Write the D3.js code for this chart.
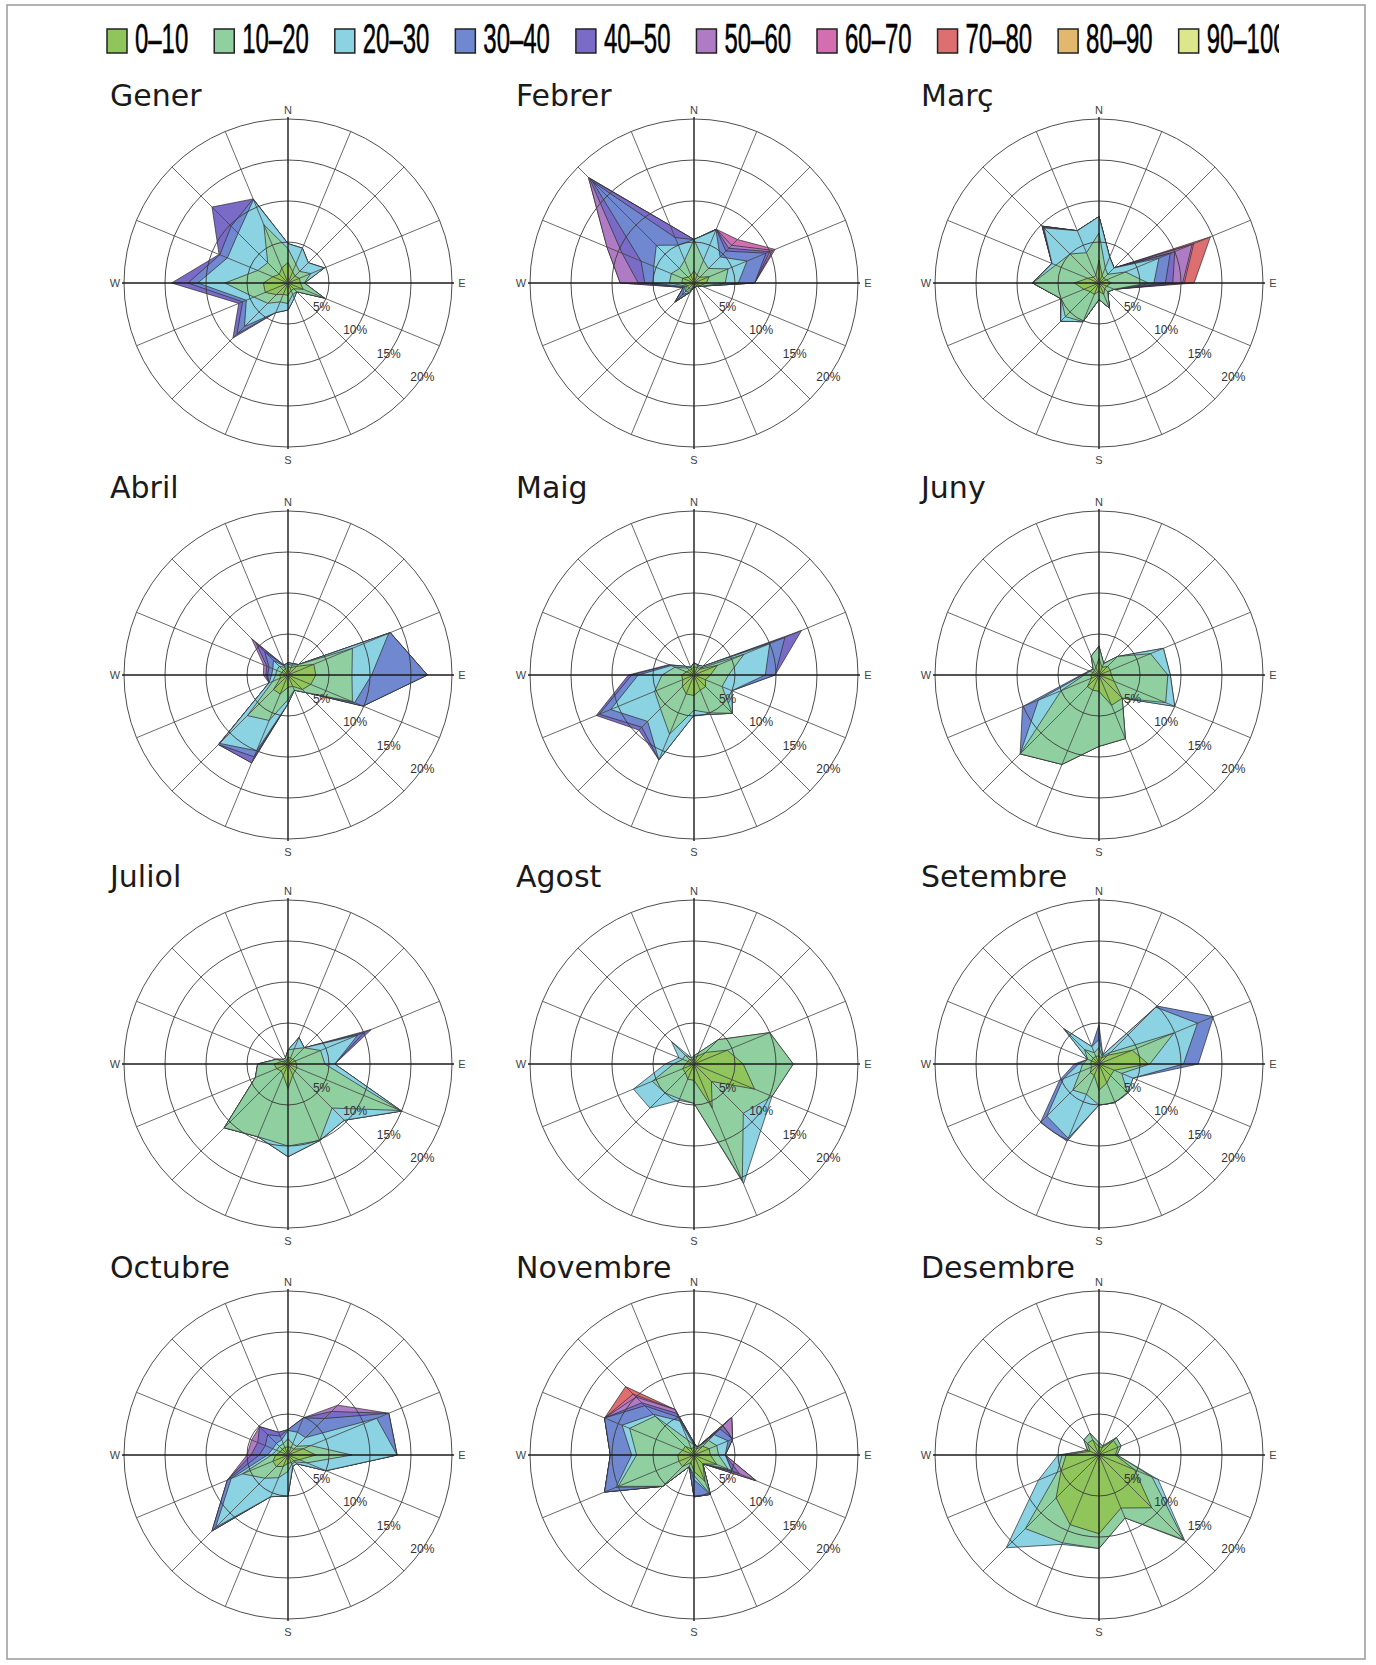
<!DOCTYPE html>
<html>
<head>
<meta charset="utf-8">
<script src="https://cdn.jsdelivr.net/npm/d3@7"></script>
<style>
  body { margin: 0; background: #fff; }
  svg { display: block; }
</style>
</head>
<body>
<svg id="chart" width="1376" height="1665"></svg>
<script>
// classes de velocitat i colors
const classes = ['0–10', '10–20', '20–30', '30–40', '40–50', '50–60', '60–70', '70–80', '80–90', '90–100'];
const classColors = ['#8fc55a', '#90cfa0', '#8bd2e2', '#7088d0', '#7a6cc6', '#ae7bc4', '#d36fb0', '#de6f70', '#e2b86e', '#dbe78a'];
const directions = ['N', 'NNE', 'NE', 'ENE', 'E', 'ESE', 'SE', 'SSE', 'S', 'SSW', 'SW', 'WSW', 'W', 'WNW', 'NW', 'NNW'];
const monthNames = ['Gener', 'Febrer', 'Març', 'Abril', 'Maig', 'Juny', 'Juliol', 'Agost', 'Setembre', 'Octubre', 'Novembre', 'Desembre'];
const rings = [5, 10, 15, 20];

// freqüència acumulada (%) per classe, 16 direccions des del N en sentit horari
const gener = [
  [2.5, 1.5, 1.2, 1.5, 1.5, 2.0, 1.0, 1.0, 1.5, 1.5, 2.0, 3.0, 3.0, 2.0, 1.5, 2.0],
  [4.2, 2.5, 2.0, 3.0, 2.0, 4.8, 1.5, 1.5, 2.5, 2.5, 3.5, 4.5, 7.7, 4.0, 3.5, 7.7],
  [4.8, 4.6, 3.5, 4.8, 2.0, 4.8, 1.5, 2.0, 3.3, 3.9, 7.5, 5.5, 11.0, 8.0, 8.6, 11.0],
  [4.8, 4.6, 3.5, 4.8, 2.0, 4.8, 1.5, 2.0, 3.3, 3.9, 8.8, 6.0, 12.2, 9.0, 9.8, 11.1],
  [4.8, 4.6, 3.5, 4.8, 2.0, 4.8, 1.5, 2.0, 3.3, 3.9, 9.5, 6.5, 14.2, 9.1, 13.1, 11.1]
];
const febrer = [
  [1.5, 1.0, 1.0, 2.0, 1.5, 0.8, 0.5, 0.5, 0.5, 0.8, 1.0, 0.8, 1.5, 1.5, 1.0, 1.0],
  [5.3, 3.0, 2.5, 4.5, 3.8, 1.0, 0.5, 0.5, 0.5, 1.0, 1.5, 1.0, 3.0, 3.0, 2.5, 3.0],
  [5.3, 7.0, 4.5, 7.0, 5.4, 1.0, 0.5, 0.5, 0.5, 1.2, 2.0, 1.2, 5.0, 5.3, 6.5, 5.0],
  [5.3, 7.1, 5.5, 9.5, 7.4, 1.0, 0.5, 0.5, 0.5, 1.2, 3.2, 1.4, 6.0, 7.0, 17.5, 6.0],
  [5.3, 7.1, 6.0, 10.0, 7.4, 1.0, 0.5, 0.5, 0.5, 1.2, 3.3, 1.4, 6.8, 9.5, 18.0, 7.6],
  [5.3, 7.1, 6.5, 10.4, 7.4, 1.0, 0.5, 0.5, 0.5, 1.2, 3.3, 1.4, 9.0, 11.5, 18.2, 7.6],
  [5.3, 7.1, 7.5, 10.7, 7.4, 1.0, 0.5, 0.5, 0.5, 1.2, 3.3, 1.4, 9.0, 11.5, 18.2, 7.6]
];
const marc = [
  [2.8, 1.0, 0.8, 1.0, 1.5, 1.0, 1.0, 1.5, 1.0, 1.5, 1.5, 2.0, 3.0, 1.5, 1.0, 1.0],
  [6.1, 2.0, 1.5, 3.5, 6.0, 2.0, 1.5, 3.3, 2.0, 5.1, 5.8, 5.0, 8.1, 5.7, 5.0, 4.0],
  [8.1, 3.4, 2.6, 7.9, 6.7, 2.0, 1.5, 3.3, 2.0, 5.1, 6.6, 5.0, 8.1, 6.2, 9.5, 6.9],
  [8.1, 3.4, 2.6, 9.4, 8.1, 2.0, 1.5, 3.3, 2.0, 5.1, 6.6, 5.0, 8.1, 6.2, 9.6, 6.9],
  [8.1, 3.4, 2.6, 10.0, 9.0, 2.0, 1.5, 3.3, 2.0, 5.1, 6.6, 5.0, 8.1, 6.2, 9.8, 6.9],
  [8.1, 3.4, 2.6, 12.3, 10.2, 2.0, 1.5, 3.3, 2.0, 5.1, 6.6, 5.0, 8.1, 6.2, 9.8, 6.9],
  [8.1, 3.4, 2.6, 12.5, 10.4, 2.0, 1.5, 3.3, 2.0, 5.1, 6.6, 5.0, 8.1, 6.2, 9.8, 6.9],
  [8.1, 3.4, 2.6, 14.7, 11.6, 2.0, 1.5, 3.3, 2.0, 5.1, 6.6, 5.0, 8.1, 6.2, 9.8, 6.9]
];
const abril = [
  [1.0, 1.0, 1.5, 3.4, 3.4, 3.0, 2.5, 1.5, 1.5, 2.5, 2.5, 1.0, 1.0, 0.8, 0.8, 0.8],
  [1.3, 1.3, 1.8, 8.5, 7.8, 8.5, 3.0, 2.0, 3.0, 6.0, 7.0, 2.0, 1.5, 1.5, 1.5, 1.0],
  [1.5, 1.5, 1.8, 13.3, 10.2, 8.8, 3.0, 2.0, 3.5, 10.0, 11.8, 2.5, 2.0, 2.0, 2.5, 1.2],
  [1.5, 1.5, 1.8, 13.5, 17.0, 9.9, 3.0, 2.0, 3.5, 10.8, 12.0, 2.5, 2.5, 2.5, 4.0, 1.3],
  [1.5, 1.5, 1.8, 13.5, 17.0, 9.9, 3.0, 2.0, 3.5, 11.6, 12.0, 2.5, 2.7, 2.8, 5.5, 1.3],
  [1.5, 1.5, 1.8, 13.5, 17.0, 9.9, 3.0, 2.0, 3.5, 11.6, 12.0, 2.5, 3.0, 3.2, 6.3, 1.3]
];
const maig = [
  [1.0, 1.0, 1.0, 3.1, 2.0, 1.5, 2.0, 2.0, 2.5, 2.5, 2.0, 1.5, 1.5, 1.0, 0.8, 0.8],
  [1.5, 1.2, 1.2, 6.6, 4.2, 3.7, 6.6, 5.0, 4.3, 7.8, 5.8, 5.2, 3.9, 2.5, 1.2, 1.0],
  [1.5, 1.3, 1.5, 10.0, 8.7, 5.0, 6.6, 5.2, 4.9, 11.2, 8.0, 11.0, 6.8, 3.0, 1.5, 1.0],
  [1.5, 1.3, 1.5, 12.0, 9.9, 5.0, 6.6, 5.2, 4.9, 11.2, 9.0, 12.5, 7.6, 3.2, 1.5, 1.0],
  [1.5, 1.3, 1.5, 14.2, 9.9, 5.0, 6.6, 5.2, 4.9, 11.2, 9.5, 12.9, 8.0, 3.3, 1.5, 1.0]
];
const juny = [
  [2.0, 1.0, 1.5, 1.5, 1.5, 2.0, 4.0, 4.0, 2.0, 2.0, 2.0, 1.0, 1.0, 0.8, 0.8, 1.0],
  [3.5, 1.5, 3.2, 6.8, 8.4, 8.8, 4.0, 8.4, 8.7, 11.8, 13.6, 5.0, 1.8, 1.2, 1.0, 2.5],
  [3.5, 1.5, 3.2, 8.5, 8.7, 10.0, 4.0, 8.4, 8.7, 11.8, 13.6, 8.0, 2.0, 1.3, 1.0, 2.5],
  [3.5, 1.5, 3.2, 8.5, 8.7, 10.0, 4.0, 8.4, 8.7, 11.8, 13.6, 10.1, 2.2, 1.3, 1.0, 2.5]
];
const juliol = [
  [0.8, 0.8, 0.8, 1.0, 1.0, 1.2, 1.2, 1.5, 3.0, 1.5, 1.2, 1.5, 1.7, 0.8, 0.5, 0.5],
  [1.7, 2.0, 2.8, 4.3, 4.5, 14.8, 7.6, 10.1, 10.0, 9.6, 11.0, 4.3, 3.7, 1.5, 0.8, 0.8],
  [1.7, 3.5, 2.8, 9.2, 5.7, 15.0, 9.7, 10.1, 11.3, 9.6, 11.0, 4.3, 3.7, 1.5, 0.8, 0.8],
  [1.7, 3.5, 2.8, 10.0, 5.7, 15.0, 9.7, 10.1, 11.3, 9.6, 11.0, 4.3, 3.7, 1.5, 0.8, 0.8],
  [1.7, 3.5, 2.8, 11.0, 5.7, 15.0, 9.7, 10.1, 11.3, 9.6, 11.0, 4.3, 3.7, 1.5, 0.8, 0.8]
];
const agost = [
  [0.8, 1.0, 2.0, 4.4, 6.0, 8.0, 3.0, 5.8, 2.0, 2.0, 1.5, 1.5, 1.0, 0.8, 0.8, 0.5],
  [1.0, 1.5, 4.2, 10.0, 12.1, 10.3, 8.5, 15.4, 4.8, 4.6, 5.0, 5.5, 2.5, 1.5, 1.5, 0.8],
  [1.0, 1.5, 4.2, 10.0, 12.1, 10.3, 11.5, 15.8, 4.8, 4.8, 7.6, 8.0, 3.5, 2.0, 3.9, 0.8]
];
const setembre = [
  [1.0, 0.8, 1.5, 4.4, 6.0, 2.0, 2.0, 2.5, 3.2, 1.5, 1.5, 1.0, 1.0, 1.0, 1.0, 1.0],
  [2.0, 1.0, 2.0, 9.9, 6.2, 3.0, 4.9, 5.1, 5.0, 4.0, 4.5, 2.5, 2.0, 1.5, 2.5, 1.5],
  [3.0, 1.2, 9.8, 13.0, 10.3, 4.5, 4.9, 5.1, 5.0, 9.8, 9.0, 4.7, 2.5, 1.5, 6.1, 2.3],
  [4.8, 1.2, 10.0, 15.1, 12.1, 4.5, 4.9, 5.1, 5.0, 10.2, 10.1, 5.2, 3.0, 1.5, 6.1, 2.3]
];
const octubre = [
  [1.0, 1.0, 1.0, 2.0, 3.4, 1.5, 1.0, 1.0, 1.0, 1.5, 2.0, 2.0, 1.5, 1.0, 1.0, 1.0],
  [2.0, 1.5, 1.5, 3.0, 7.8, 2.5, 1.2, 1.2, 2.0, 3.0, 4.0, 6.0, 2.0, 1.5, 1.5, 1.5],
  [3.0, 3.0, 3.0, 11.7, 13.3, 5.0, 1.5, 1.5, 5.0, 5.5, 12.5, 7.5, 2.5, 2.0, 2.0, 2.0],
  [3.1, 4.9, 6.3, 13.3, 13.3, 5.0, 1.5, 1.5, 5.0, 5.5, 13.1, 8.0, 3.5, 3.0, 3.5, 2.5],
  [3.1, 4.9, 7.5, 13.3, 13.3, 5.0, 1.5, 1.5, 5.0, 5.5, 13.1, 8.0, 4.5, 4.0, 4.9, 3.0],
  [3.1, 4.9, 8.6, 13.3, 13.3, 5.0, 1.5, 1.5, 5.0, 5.5, 13.1, 8.0, 5.0, 4.8, 4.9, 3.0]
];
const novembre = [
  [1.0, 0.8, 1.5, 2.0, 2.0, 3.0, 1.5, 3.5, 2.0, 1.0, 2.0, 2.0, 2.0, 1.5, 1.5, 0.8],
  [1.2, 1.0, 2.5, 3.0, 3.0, 4.5, 1.5, 5.2, 2.5, 1.5, 5.4, 10.0, 7.0, 8.5, 6.7, 2.0],
  [1.2, 1.0, 3.5, 4.5, 3.8, 5.0, 1.5, 5.2, 3.0, 1.5, 5.4, 10.3, 7.6, 9.5, 7.0, 4.5],
  [1.5, 1.0, 4.5, 5.1, 3.8, 5.0, 1.5, 5.2, 5.1, 1.5, 5.4, 11.8, 10.2, 11.8, 8.5, 5.0],
  [1.5, 1.0, 5.0, 5.1, 3.8, 6.0, 1.5, 5.2, 5.1, 1.5, 5.4, 11.8, 10.2, 11.8, 9.0, 5.5],
  [1.5, 1.0, 6.5, 5.1, 3.8, 8.2, 1.5, 5.2, 5.1, 1.5, 5.4, 11.8, 10.2, 11.8, 10.0, 6.0],
  [1.5, 1.0, 6.5, 5.1, 3.8, 8.2, 1.5, 5.2, 5.1, 1.5, 5.4, 11.8, 10.2, 11.8, 10.5, 6.0],
  [1.5, 1.0, 6.5, 5.1, 3.8, 8.2, 1.5, 5.2, 5.1, 1.5, 5.4, 11.8, 10.2, 11.8, 11.8, 6.0]
];
const desembre = [
  [1.0, 1.0, 2.5, 2.5, 2.0, 4.7, 9.1, 7.0, 9.6, 9.2, 7.4, 5.0, 4.0, 1.2, 2.0, 2.0],
  [1.5, 1.2, 3.0, 2.9, 2.2, 7.0, 14.6, 8.3, 11.4, 11.6, 12.7, 5.5, 4.5, 1.5, 2.6, 2.9],
  [1.5, 1.2, 3.0, 2.9, 2.2, 7.8, 14.8, 8.3, 11.4, 11.8, 16.0, 8.0, 5.0, 1.5, 2.6, 2.9]
];
const months = [gener, febrer, marc, abril, maig, juny, juliol, agost, setembre, octubre, novembre, desembre];

const svg = d3.select('#chart');

// marc exterior
svg.append('rect')
  .attr('x', 7).attr('y', 5)
  .attr('width', 1358).attr('height', 1654)
  .attr('fill', 'none')
  .attr('stroke', '#999')
  .attr('stroke-width', 1.5);

// llegenda (retallada a la dreta com a l'original)
svg.append('clipPath').attr('id', 'legclip')
  .append('rect').attr('x', 0).attr('y', 0).attr('width', 1279).attr('height', 80);

const legend = svg.append('g').attr('clip-path', 'url(#legclip)');
let lx = 107;
classes.forEach((c, i) => {
  legend.append('rect')
    .attr('x', lx).attr('y', 29)
    .attr('width', 20).attr('height', 24)
    .attr('fill', classColors[i])
    .attr('stroke', '#222')
    .attr('stroke-width', 1.5);
  const t = legend.append('text')
    .attr('transform', `translate(${lx + 28},53) scale(0.57,1)`)
    .attr('font-family', 'Liberation Sans, Arial, sans-serif')
    .attr('font-size', 42)
    .attr('fill', '#000')
    .attr('stroke', '#000')
    .attr('stroke-width', 0.6)
    .text(c);
  const w = t.node().getComputedTextLength() * 0.57;
  lx += 28 + w + 26;
});

// escales
const rScale = d3.scaleLinear().domain([0, 20]).range([0, 164]);
const angle = d3.scaleLinear().domain([0, directions.length]).range([0, 2 * Math.PI]);
const colX = [288, 694, 1099];
const rowY = [283, 675, 1064, 1455];

const radial = d3.lineRadial()
  .angle((d, i) => angle(i))
  .radius(d => rScale(d))
  .curve(d3.curveLinearClosed);

months.forEach((layers, m) => {
  const cx = colX[m % 3];
  const cy = rowY[Math.floor(m / 3)];
  const g = svg.append('g').attr('transform', `translate(${cx},${cy})`);

  // títol
  g.append('text')
    .attr('x', -178).attr('y', -177)
    .attr('font-family', 'DejaVu Sans, sans-serif')
    .attr('font-size', 30)
    .attr('fill', '#1a1a1a')
    .text(monthNames[m]);

  // polígons acumulats, de fora cap a dins
  for (let k = layers.length - 1; k >= 0; k--) {
    g.append('path')
      .attr('d', radial(layers[k]))
      .attr('fill', classColors[k])
      .attr('stroke', '#2a2a2a')
      .attr('stroke-width', 0.7)
      .attr('stroke-linejoin', 'round');
  }

  // graella
  rings.forEach(v => {
    g.append('circle')
      .attr('r', rScale(v))
      .attr('fill', 'none')
      .attr('stroke', '#3a3a3a')
      .attr('stroke-width', 0.9);
  });

  directions.forEach((d, i) => {
    const a = angle(i);
    const cardinal = i % 4 === 0;
    const R = rScale(20) + (cardinal ? 2 : 0);
    g.append('line')
      .attr('x1', 0).attr('y1', 0)
      .attr('x2', R * Math.sin(a))
      .attr('y2', -R * Math.cos(a))
      .attr('stroke', cardinal ? '#1a1a1a' : '#444')
      .attr('stroke-width', cardinal ? 1.4 : 0.8);
  });

  // punts cardinals
  const compass = [['N', 0, -169], ['E', 174, 4], ['S', 0, 181], ['W', -173, 4]];
  compass.forEach(([t, x, y]) => {
    g.append('text')
      .attr('x', x).attr('y', y)
      .attr('text-anchor', 'middle')
      .attr('font-family', 'Liberation Sans, Arial, sans-serif')
      .attr('font-size', 11)
      .attr('fill', '#444')
      .text(t);
  });

  // etiquetes de percentatge
  const la = 125 * Math.PI / 180;
  rings.forEach(v => {
    const rr = rScale(v);
    g.append('text')
      .attr('x', rr * Math.sin(la))
      .attr('y', -rr * Math.cos(la) + 4)
      .attr('text-anchor', 'middle')
      .attr('font-family', 'Liberation Sans, Arial, sans-serif')
      .attr('font-size', 12)
      .attr('fill', '#333')
      .text(v + '%');
  });
});
</script>
</body>
</html>
